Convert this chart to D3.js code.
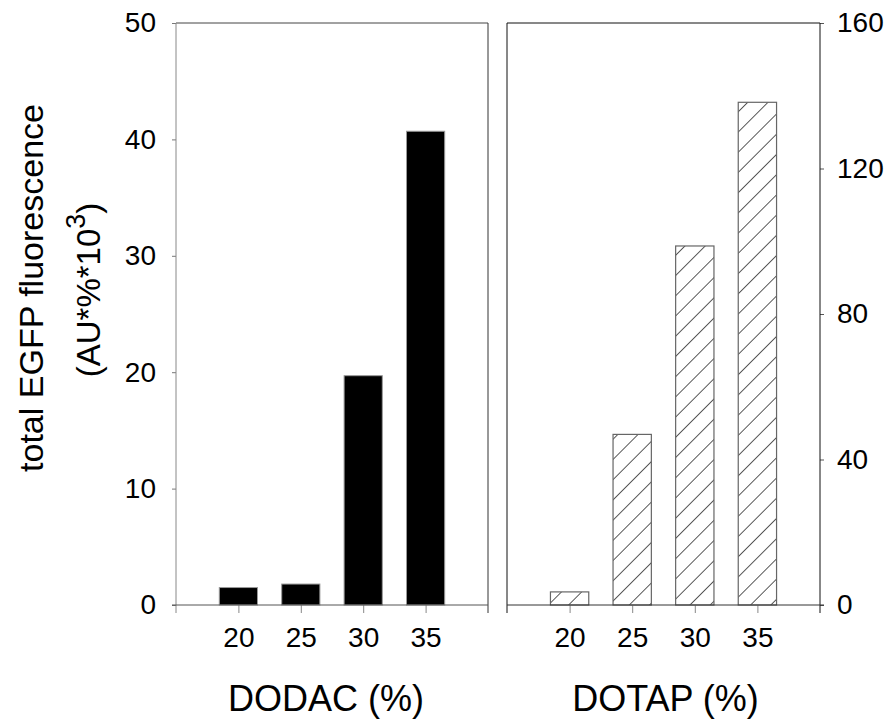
<!DOCTYPE html>
<html>
<head>
<meta charset="utf-8">
<script src="https://cdn.jsdelivr.net/npm/d3@7"></script>
<style>
  body { margin: 0; background: #fff; }
  svg { display: block; font-family: "Liberation Sans", Arial, sans-serif; }
</style>
</head>
<body>
<div id="chart"></div>
<script>
// data
var dodacPct = [20, 25, 30, 35];
var dodacVals = [1.5, 1.8, 19.7, 40.7];
var dotapPct = [20, 25, 30, 35];
var dotapVals = [3.6, 46.9, 98.7, 138.2];
var leftTicks = [0, 10, 20, 30, 40, 50];
var rightTicks = [0, 40, 80, 120, 160];

var svgWidth = 891;
var svgHeight = 725;

var svg = d3.select("#chart")
  .append("svg")
  .attr("width", svgWidth)
  .attr("height", svgHeight);

// hatch pattern for DOTAP bars
var defs = svg.append("defs");
defs.append("pattern")
  .attr("id", "hatch")
  .attr("patternUnits", "userSpaceOnUse")
  .attr("width", 14.3)
  .attr("height", 14.3)
  .attr("patternTransform", "rotate(45)")
  .append("line")
  .attr("x1", 0).attr("y1", 0)
  .attr("x2", 0).attr("y2", 14.3)
  .attr("stroke", "#000")
  .attr("stroke-width", 1.3);

var plotTop = 23, plotBottom = 605;
var barHalf = 1.53; // half bar width in x units

// scales
var xL = d3.scaleLinear().domain([15, 40]).range([176, 488]);
var xR = d3.scaleLinear().domain([15, 40]).range([507, 820]);
var yL = d3.scaleLinear().domain([0, 50]).range([plotBottom, plotTop]);
var yR = d3.scaleLinear().domain([0, 160]).range([plotBottom, plotTop]);

function styleAxis(g, color) {
  g.select(".domain").remove();
  g.selectAll(".tick line").attr("stroke", color);
  g.selectAll(".tick text")
    .attr("font-size", 28)
    .attr("font-family", "Liberation Sans, Arial, sans-serif")
    .attr("fill", "#000");
}

// ---- left panel (DODAC) ----
var left = svg.append("g");

left.selectAll(".bar")
  .data(dodacPct)
  .enter()
  .append("rect")
  .attr("x", d => xL(d - barHalf))
  .attr("width", d => xL(d + barHalf) - xL(d - barHalf))
  .attr("y", (d, i) => yL(dodacVals[i]))
  .attr("height", (d, i) => yL(0) - yL(dodacVals[i]))
  .attr("fill", "#000")
  .attr("stroke", "#999")
  .attr("stroke-width", 1);

left.append("g")
  .attr("transform", `translate(${xL(15)},0)`)
  .call(d3.axisLeft(yL).tickValues(leftTicks).tickSize(4).tickPadding(16))
  .call(g => styleAxis(g, "#777"));

left.append("g")
  .attr("transform", `translate(0,${plotBottom})`)
  .call(d3.axisBottom(xL).tickValues(dodacPct).tickSize(8).tickPadding(14))
  .call(g => styleAxis(g, "#888"));

// frame
left.append("line").attr("x1", xL(15)).attr("x2", xL(40)).attr("y1", plotTop).attr("y2", plotTop).attr("stroke", "#444");
left.append("line").attr("x1", xL(15)).attr("x2", xL(15)).attr("y1", plotTop).attr("y2", plotBottom + 8).attr("stroke", "#888");
left.append("line").attr("x1", xL(40)).attr("x2", xL(40)).attr("y1", plotTop).attr("y2", plotBottom + 8).attr("stroke", "#333");
left.append("line").attr("x1", xL(15) - 4).attr("x2", xL(40)).attr("y1", plotBottom).attr("y2", plotBottom).attr("stroke", "#555");

// ---- right panel (DOTAP) ----
var right = svg.append("g");

right.selectAll(".bar")
  .data(dotapPct)
  .enter()
  .append("rect")
  .attr("x", d => xR(d - barHalf))
  .attr("width", d => xR(d + barHalf) - xR(d - barHalf))
  .attr("y", (d, i) => yR(dotapVals[i]))
  .attr("height", (d, i) => yR(0) - yR(dotapVals[i]))
  .attr("fill", "url(#hatch)")
  .attr("stroke", "#666")
  .attr("stroke-width", 1.2);

right.append("g")
  .attr("transform", `translate(${xR(40)},0)`)
  .call(d3.axisRight(yR).tickValues(rightTicks).tickSize(4).tickPadding(13))
  .call(g => styleAxis(g, "#555"));

right.append("g")
  .attr("transform", `translate(0,${plotBottom})`)
  .call(d3.axisBottom(xR).tickValues(dotapPct).tickSize(8).tickPadding(14))
  .call(g => styleAxis(g, "#888"));

right.append("line").attr("x1", xR(15)).attr("x2", xR(40)).attr("y1", plotTop).attr("y2", plotTop).attr("stroke", "#111");
right.append("line").attr("x1", xR(15)).attr("x2", xR(15)).attr("y1", plotTop).attr("y2", plotBottom + 8).attr("stroke", "#111");
right.append("line").attr("x1", xR(40)).attr("x2", xR(40)).attr("y1", plotTop).attr("y2", plotBottom + 8).attr("stroke", "#111");
right.append("line").attr("x1", xR(15)).attr("x2", xR(40) + 4).attr("y1", plotBottom).attr("y2", plotBottom).attr("stroke", "#333");

// ---- axis titles ----
svg.append("text")
  .attr("x", (xL(15) + xL(40)) / 2 - 6)
  .attr("y", 711)
  .attr("text-anchor", "middle")
  .attr("font-size", 36)
  .text("DODAC (%)");

svg.append("text")
  .attr("x", (xR(15) + xR(40)) / 2 + 2)
  .attr("y", 711)
  .attr("text-anchor", "middle")
  .attr("font-size", 36)
  .text("DOTAP (%)");

var yTitle = svg.append("g")
  .attr("transform", "translate(0,288) rotate(-90)");

yTitle.append("text")
  .attr("x", 0)
  .attr("y", 43)
  .attr("text-anchor", "middle")
  .attr("font-size", 34)
  .text("total EGFP fluorescence");

var line2 = yTitle.append("text")
  .attr("x", -2)
  .attr("y", 100)
  .attr("text-anchor", "middle")
  .attr("font-size", 33);
line2.append("tspan").text("(AU*%*10");
line2.append("tspan").attr("dy", -15).attr("font-size", 27).text("3");
line2.append("tspan").attr("dy", 15).text(")");
</script>
</body>
</html>
